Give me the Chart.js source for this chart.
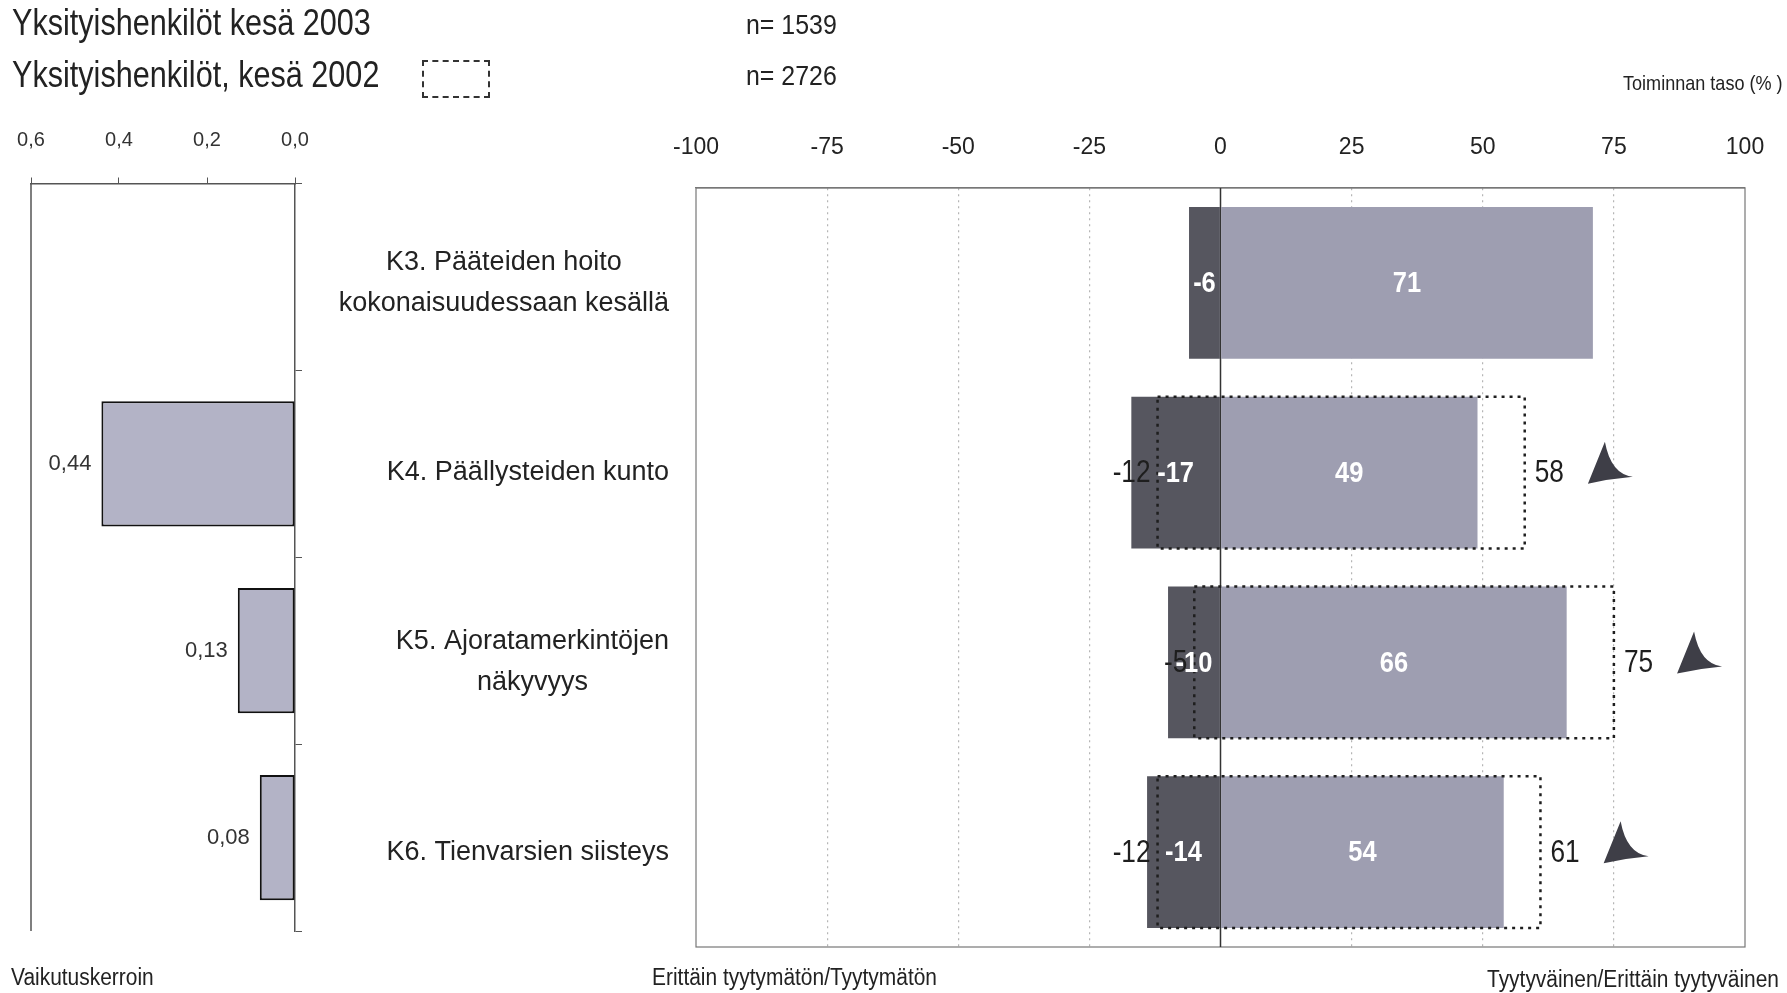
<!DOCTYPE html>
<html>
<head>
<meta charset="UTF-8">
<title>Yksityishenkilöt kesä 2003</title>
<script src="https://cdn.jsdelivr.net/npm/chart.js@4.4.0/dist/chart.umd.min.js"></script>
<style>
  body { margin: 0; background: #fff; }
  #page { position: relative; width: 1787px; height: 993px; overflow: hidden; }
  .txt { position: absolute; white-space: nowrap; line-height: 1; color: #222;
         font-family: "Liberation Sans", Arial, sans-serif; transform-origin: 0 0; }
  .title { font-size: 36px; transform: scaleX(0.85); }
  .nval { font-size: 28px; transform: scaleX(0.89); }
  .foot { font-size: 23px; transform: scaleX(0.91); }
  #legendBox { position: absolute; left: 422px; top: 60px; width: 64px; height: 34px;
               border: 2px dashed #333; }
  #leftWrap { position: absolute; left: 0; top: 0; width: 340px; height: 993px; }
  #rightWrap { position: absolute; left: 0; top: 0; width: 1787px; height: 993px; }
</style>
</head>
<body>
<div id="page">
  <div id="rightWrap"><canvas id="rightChart"></canvas></div>
  <div id="leftWrap"><canvas id="leftChart"></canvas></div>

  <div class="txt title" style="left:12px; top:5px;">Yksityishenkilöt kesä 2003</div>
  <div class="txt title" style="left:12px; top:57px;">Yksityishenkilöt, kesä 2002</div>
  <div id="legendBox"></div>
  <div class="txt nval" style="left:746px; top:11px;">n= 1539</div>
  <div class="txt nval" style="left:746px; top:62px;">n= 2726</div>
  <div class="txt" style="left:1623px; top:72px; font-size:21px; transform:scaleX(0.86);">Toiminnan taso (% )</div>
  <div class="txt foot" style="left:11px; top:966px;">Vaikutuskerroin</div>
  <div class="txt foot" style="left:652px; top:966px;">Erittäin tyytymätön/Tyytymätön</div>
  <div class="txt foot" style="left:1487px; top:968px;">Tyytyväinen/Erittäin tyytyväinen</div>
</div>

<script>
  // --- data ---
  var categories = [
    ['K3. Pääteiden hoito', 'kokonaisuudessaan kesällä'],
    ['K4. Päällysteiden kunto'],
    ['K5. Ajoratamerkintöjen', 'näkyvyys'],
    ['K6. Tienvarsien siisteys']
  ];
  var weights = [null, 0.44, 0.13, 0.08];        // vaikutuskerroin
  var weightTicks = [0.6, 0.4, 0.2, 0.0];
  var neg2003 = [-6, -17, -10, -14];             // erittäin tyytymätön/tyytymätön 2003
  var pos2003 = [71, 49, 66, 54];                // tyytyväinen/erittäin tyytyväinen 2003
  var neg2002 = [null, -12, -5, -12];
  var pos2002 = [null, 58, 75, 61];
  var levelTicks = [-100, -75, -50, -25, 0, 25, 50, 75, 100];

  var REG = '"Liberation Sans", Arial, sans-serif';
  var DARK = '#56565f';
  var LIGHT = '#9e9eb1';

  function comma(v, d) { return v.toFixed(d).replace('.', ','); }

  // squeezed text (the original uses a narrow face)
  function narrowText(ctx, s, x, y, align, sx) {
    ctx.save();
    ctx.translate(x, y);
    ctx.scale(sx, 1);
    ctx.textAlign = align;
    ctx.fillText(s, 0, 0);
    ctx.restore();
    return ctx.measureText(s).width * sx;
  }

  // ---------- left chart: vaikutuskerroin ----------
  var leftPlugin = {
    id: 'leftExtras',
    beforeDatasetsDraw: function (chart) {
      var a = chart.chartArea, ctx = chart.ctx;
      ctx.save();
      ctx.strokeStyle = '#555';
      ctx.lineWidth = 1.5;
      ctx.beginPath();
      ctx.moveTo(a.left, a.top);
      ctx.lineTo(a.left, a.bottom);
      ctx.stroke();
      ctx.restore();
    },
    afterDatasetsDraw: function (chart) {
      var ctx = chart.ctx;
      var meta = chart.getDatasetMeta(0);
      ctx.save();
      ctx.font = '22px ' + REG;
      ctx.fillStyle = '#333';
      ctx.textAlign = 'right';
      ctx.textBaseline = 'middle';
      meta.data.forEach(function (bar, i) {
        if (weights[i] == null) return;
        ctx.fillText(comma(weights[i], 2), bar.x - 10, bar.y);
      });
      ctx.restore();
    }
  };

  new Chart(document.getElementById('leftChart'), {
    type: 'bar',
    data: {
      labels: categories.map(function (c) { return c.join(' '); }),
      datasets: [{
        data: weights,
        backgroundColor: '#b3b3c6',
        borderColor: '#111',
        borderWidth: 2,
        borderSkipped: false,
        barPercentage: 0.67,
        categoryPercentage: 1
      }]
    },
    options: {
      indexAxis: 'y',
      responsive: true,
      maintainAspectRatio: false,
      animation: false,
      layout: { padding: { left: 31, right: 35, top: 100, bottom: 62 } },
      plugins: { legend: { display: false }, tooltip: { enabled: false } },
      scales: {
        x: {
          position: 'top',
          reverse: true,
          min: 0, max: 0.6,
          afterBuildTicks: function (s) { s.ticks = weightTicks.map(function (v) { return { value: v }; }); },
          afterFit: function (s) { s.height = 83.5; },
          ticks: {
            padding: 0,
            color: '#333',
            font: { family: REG, size: 20, lineHeight: '75px' },
            callback: function (v) { return comma(v, 1); }
          },
          grid: { drawOnChartArea: false, drawTicks: true, tickLength: 6, color: '#555', tickColor: '#555' },
          border: { display: true, color: '#555', width: 1.5 }
        },
        y: {
          position: 'right',
          afterFit: function (s) { s.width = 10; },
          ticks: { display: false },
          grid: { offset: true, drawOnChartArea: false, drawTicks: true, tickLength: 7, color: '#555' },
          border: { display: true, color: '#555', width: 1.5 }
        }
      }
    },
    plugins: [leftPlugin]
  });

  // ---------- right chart: toiminnan taso ----------
  function drawArrow(ctx, ax, ay) {
    ctx.beginPath();
    ctx.moveTo(ax, ay);
    ctx.lineTo(ax + 17, ay - 42);
    ctx.quadraticCurveTo(ax + 23, ay - 9.5, ax + 45, ay - 7);
    ctx.quadraticCurveTo(ax + 22, ay - 5, ax, ay);
    ctx.closePath();
    ctx.fill();
  }

  var rightPlugin = {
    id: 'rightExtras',
    beforeDatasetsDraw: function (chart) {
      var a = chart.chartArea, ctx = chart.ctx;
      var x0 = chart.scales.x.getPixelForValue(0);
      ctx.save();
      ctx.strokeStyle = '#777';
      ctx.lineWidth = 1.2;
      ctx.strokeRect(a.left, a.top, a.right - a.left, a.bottom - a.top);
      ctx.strokeStyle = '#333';
      ctx.lineWidth = 1.5;
      ctx.beginPath();
      ctx.moveTo(x0, a.top);
      ctx.lineTo(x0, a.bottom);
      ctx.stroke();
      ctx.restore();
    },
    afterDatasetsDraw: function (chart) {
      var ctx = chart.ctx;
      var xs = chart.scales.x, ys = chart.scales.y;
      var negMeta = chart.getDatasetMeta(0);
      var posMeta = chart.getDatasetMeta(1);
      var oldMeta = chart.getDatasetMeta(2);
      ctx.save();

      // dotted 2002 boxes
      ctx.strokeStyle = '#1e1e1e';
      ctx.lineWidth = 2.5;
      ctx.setLineDash([3, 5]);
      oldMeta.data.forEach(function (bar, i) {
        if (neg2002[i] == null) return;
        var l = xs.getPixelForValue(neg2002[i]);
        var r = xs.getPixelForValue(pos2002[i]);
        var t = bar.y - bar.height / 2, b = bar.y + bar.height / 2;
        ctx.strokeRect(l, t, r - l, b - t);
      });
      ctx.setLineDash([]);

      // 2003 labels inside bars
      ctx.fillStyle = '#fff';
      ctx.font = 'bold 30px ' + REG;
      ctx.textBaseline = 'middle';
      negMeta.data.forEach(function (bar, i) {
        narrowText(ctx, String(neg2003[i]), (bar.x + bar.base) / 2, bar.y + 1, 'center', 0.85);
      });
      posMeta.data.forEach(function (bar, i) {
        narrowText(ctx, String(pos2003[i]), (bar.x + bar.base) / 2, bar.y + 1, 'center', 0.85);
      });

      // 2002 labels and arrows
      ctx.font = '32px ' + REG;
      oldMeta.data.forEach(function (bar, i) {
        if (neg2002[i] == null) return;
        var l = xs.getPixelForValue(neg2002[i]);
        var r = xs.getPixelForValue(pos2002[i]);
        ctx.fillStyle = '#1e1e1e';
        narrowText(ctx, String(neg2002[i]), l - 7, bar.y + 1, 'right', 0.82);
        var w = narrowText(ctx, String(pos2002[i]), r + 10, bar.y + 1, 'left', 0.82);
        if (pos2003[i] < pos2002[i]) {
          ctx.fillStyle = '#3e3e47';
          drawArrow(ctx, r + 10 + w + 24, bar.y + 11);
        }
      });

      // category labels, block right aligned, lines centred
      ctx.fillStyle = '#222';
      ctx.font = '27px ' + REG;
      ctx.textAlign = 'center';
      var rightEdge = 669;
      categories.forEach(function (lines, i) {
        var y = ys.getPixelForValue(i);
        var widest = 0;
        lines.forEach(function (s) { widest = Math.max(widest, ctx.measureText(s).width); });
        var cx = rightEdge - widest / 2;
        var lh = 41;
        lines.forEach(function (s, k) {
          ctx.fillText(s, cx, y + (k - (lines.length - 1) / 2) * lh);
        });
      });
      ctx.restore();
    }
  };

  new Chart(document.getElementById('rightChart'), {
    type: 'bar',
    data: {
      labels: categories.map(function (c) { return c.join(' '); }),
      datasets: [
        { data: neg2003.map(function (v) { return [v, 0]; }), backgroundColor: DARK },
        { data: pos2003.map(function (v) { return [0, v]; }), backgroundColor: LIGHT },
        { data: neg2002.map(function (v, i) { return v == null ? null : [v, pos2002[i]]; }),
          backgroundColor: 'rgba(0,0,0,0)' }
      ]
    },
    options: {
      indexAxis: 'y',
      responsive: true,
      maintainAspectRatio: false,
      animation: false,
      datasets: { bar: { grouped: false, barPercentage: 0.8, categoryPercentage: 1, borderWidth: 0 } },
      layout: { padding: { left: 333, right: 42, top: 100, bottom: 46 } },
      plugins: { legend: { display: false }, tooltip: { enabled: false } },
      scales: {
        x: {
          position: 'top',
          min: -100, max: 100,
          afterBuildTicks: function (s) { s.ticks = levelTicks.map(function (v) { return { value: v }; }); },
          afterFit: function (s) { s.height = 88; },
          ticks: { padding: 0, color: '#222', font: { family: REG, size: 23, lineHeight: '80px' } },
          grid: {
            drawTicks: false,
            color: function (c) { return (c.tick && Math.abs(c.tick.value) < 100 && c.tick.value !== 0) ? '#b5b5b5' : 'rgba(0,0,0,0)'; },
            lineWidth: 1.2
          },
          border: { display: true, color: '#777', width: 1.2, dash: [2, 4] }
        },
        y: {
          afterFit: function (s) { s.width = 363; },
          ticks: { display: false },
          grid: { display: false },
          border: { display: false }
        }
      }
    },
    plugins: [rightPlugin]
  });
</script>
</body>
</html>
